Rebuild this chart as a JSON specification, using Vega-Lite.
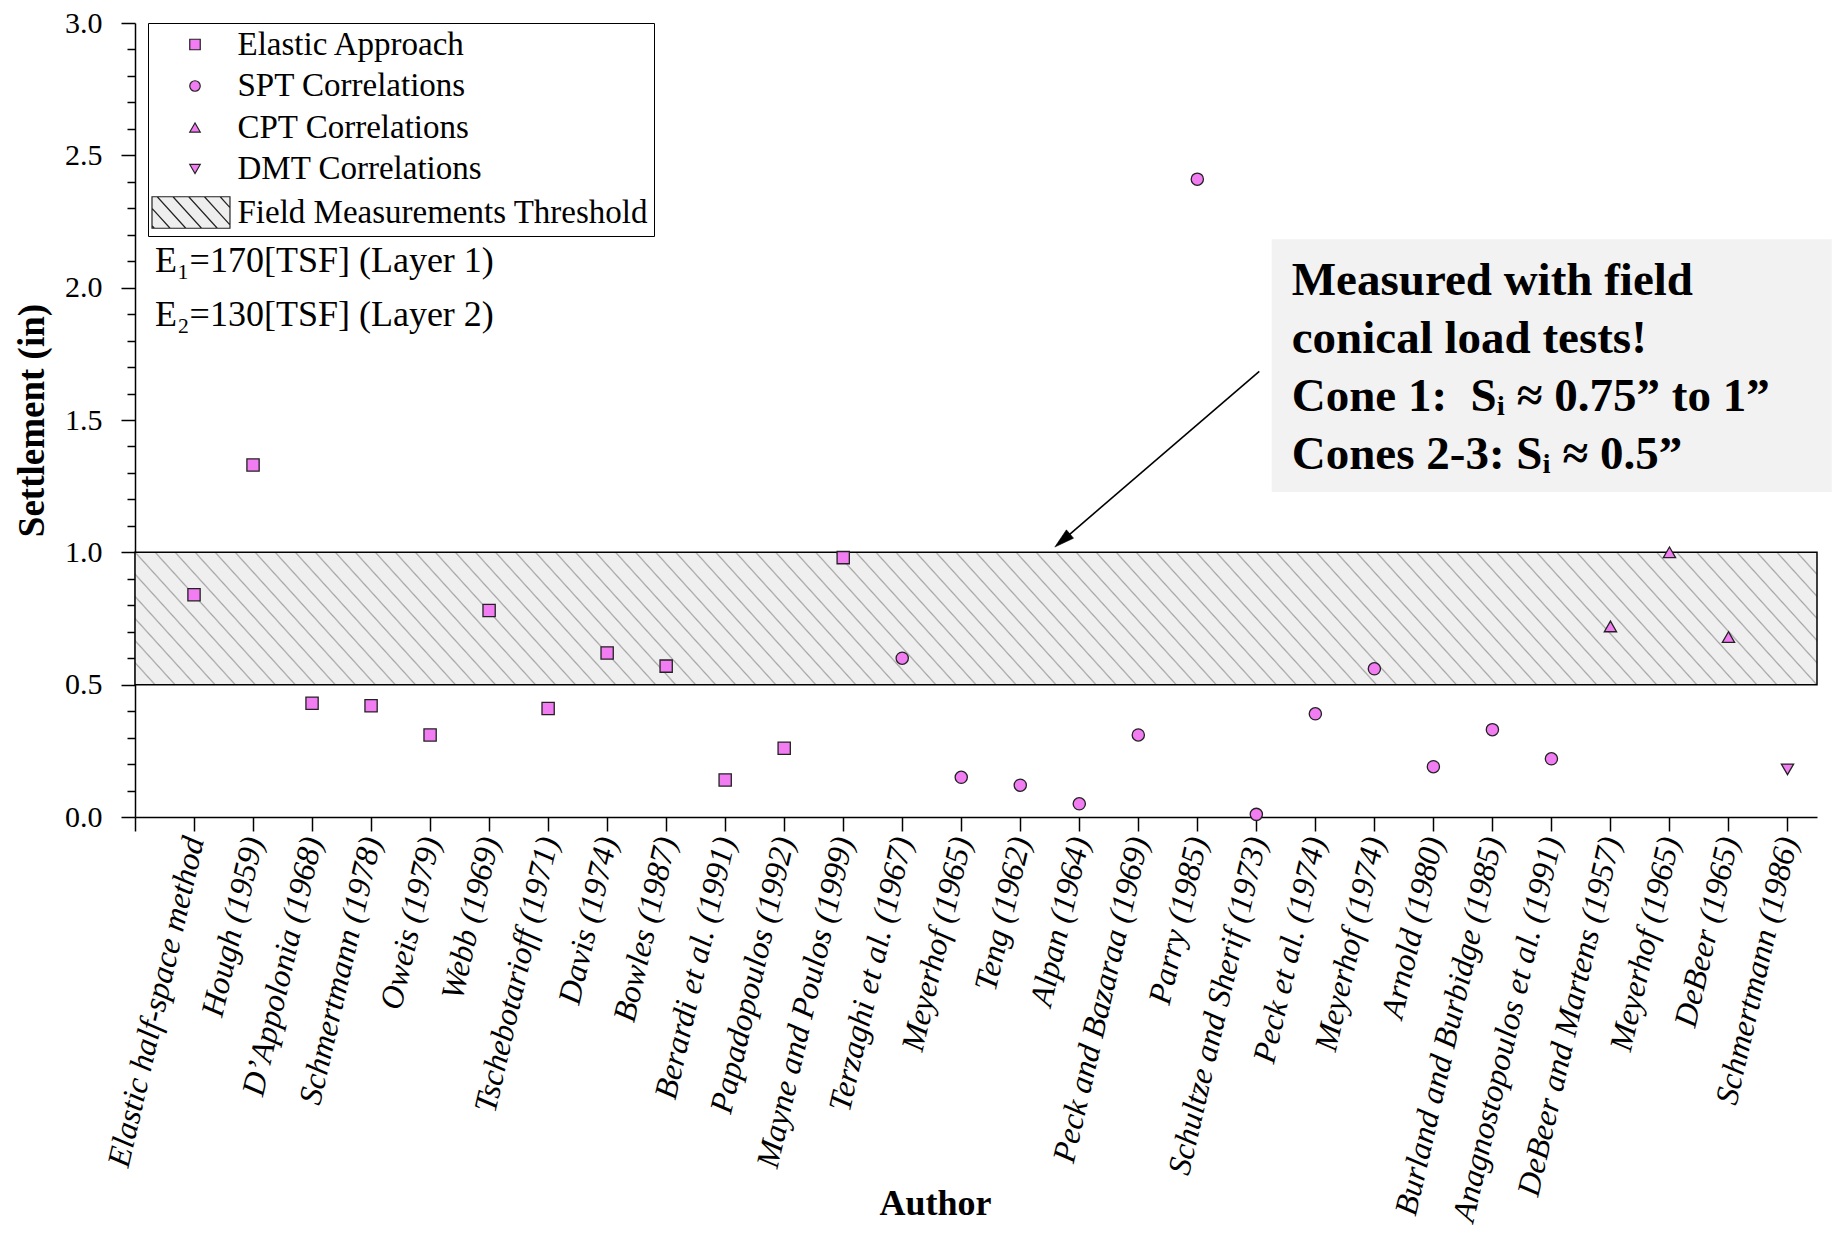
{
  "$schema": "https://vega.github.io/schema/vega-lite/v6.json",
  "width": 1682,
  "height": 794,
  "autosize": {"type": "none"},
  "padding": {"left": 135, "top": 23, "right": 15, "bottom": 420},
  "background": "white",
  "config": {
    "view": {"stroke": null},
    "font": "Liberation Serif",
    "axis": {"domainColor": "black", "domainWidth": 1.5, "tickColor": "black", "tickWidth": 1.5, "labelColor": "black", "titleColor": "black", "grid": false, "labelFont": "Liberation Serif", "titleFont": "Liberation Serif"},
    "axisY": {"labelFont": "Liberation Serif"}
  },
  "datasets": {
    "points": [
      {"x": 1, "author": "Elastic half-space method", "method": "Elastic Approach", "y": 0.84},
      {"x": 2, "author": "Hough (1959)", "method": "Elastic Approach", "y": 1.33},
      {"x": 3, "author": "D’Appolonia (1968)", "method": "Elastic Approach", "y": 0.43},
      {"x": 4, "author": "Schmertmann (1978)", "method": "Elastic Approach", "y": 0.42},
      {"x": 5, "author": "Oweis (1979)", "method": "Elastic Approach", "y": 0.31},
      {"x": 6, "author": "Webb (1969)", "method": "Elastic Approach", "y": 0.78},
      {"x": 7, "author": "Tschebotarioff (1971)", "method": "Elastic Approach", "y": 0.41},
      {"x": 8, "author": "Davis (1974)", "method": "Elastic Approach", "y": 0.62},
      {"x": 9, "author": "Bowles (1987)", "method": "Elastic Approach", "y": 0.57},
      {"x": 10, "author": "Berardi et al. (1991)", "method": "Elastic Approach", "y": 0.14},
      {"x": 11, "author": "Papadopoulos (1992)", "method": "Elastic Approach", "y": 0.26},
      {"x": 12, "author": "Mayne and Poulos (1999)", "method": "Elastic Approach", "y": 0.98},
      {"x": 13, "author": "Terzaghi et al. (1967)", "method": "SPT Correlations", "y": 0.60},
      {"x": 14, "author": "Meyerhof (1965)", "method": "SPT Correlations", "y": 0.15},
      {"x": 15, "author": "Teng (1962)", "method": "SPT Correlations", "y": 0.12},
      {"x": 16, "author": "Alpan (1964)", "method": "SPT Correlations", "y": 0.05},
      {"x": 17, "author": "Peck and Bazaraa (1969)", "method": "SPT Correlations", "y": 0.31},
      {"x": 18, "author": "Parry (1985)", "method": "SPT Correlations", "y": 2.41},
      {"x": 19, "author": "Schultze and Sherif (1973)", "method": "SPT Correlations", "y": 0.01},
      {"x": 20, "author": "Peck et al. (1974)", "method": "SPT Correlations", "y": 0.39},
      {"x": 21, "author": "Meyerhof (1974)", "method": "SPT Correlations", "y": 0.56},
      {"x": 22, "author": "Arnold (1980)", "method": "SPT Correlations", "y": 0.19},
      {"x": 23, "author": "Burland and Burbidge (1985)", "method": "SPT Correlations", "y": 0.33},
      {"x": 24, "author": "Anagnostopoulos et al. (1991)", "method": "SPT Correlations", "y": 0.22},
      {"x": 25, "author": "DeBeer and Martens (1957)", "method": "CPT Correlations", "y": 0.72},
      {"x": 26, "author": "Meyerhof (1965)", "method": "CPT Correlations", "y": 1.0},
      {"x": 27, "author": "DeBeer (1965)", "method": "CPT Correlations", "y": 0.68},
      {"x": 28, "author": "Schmertmann (1986)", "method": "DMT Correlations", "y": 0.18}
    ],
    "band": [{"x": 0, "x2": 28.5, "y": 0.5, "y2": 1.0}],
    "note": [{"x": 19.26, "x2": 28.75, "y": 1.228, "y2": 2.183}],
    "noteText": [
      {"x": 19.6, "y": 2.024, "line": "Measured with field"},
      {"x": 19.6, "y": 1.805, "line": "conical load tests!"},
      {"x": 19.6, "y": 1.586, "line": "Cone 1:\u00a0 Sᵢ ≈ 0.75” to 1”"},
      {"x": 19.6, "y": 1.367, "line": "Cones 2-3: Sᵢ ≈ 0.5”"}
    ],
    "arrow": [{"x": 19.05, "y": 1.684, "x2": 15.714, "y2": 1.0446}],
    "arrowTip": [{"x": 15.714, "y": 1.0446}],
    "params": [
      {"x": 0.34, "y": 2.099, "t": "E₁=170[TSF] (Layer 1)"},
      {"x": 0.34, "y": 1.896, "t": "E₂=130[TSF] (Layer 2)"}
    ]
  },
  "encoding": {
    "x": {
      "field": "x", "type": "quantitative", "title": "Author",
      "scale": {"domain": [0, 28.5], "nice": false, "zero": false},
      "axis": {
        "values": [0,1,2,3,4,5,6,7,8,9,10,11,12,13,14,15,16,17,18,19,20,21,22,23,24,25,26,27,28],
        "labelExpr": "['', 'Elastic half-space method', 'Hough (1959)', 'D’Appolonia (1968)', 'Schmertmann (1978)', 'Oweis (1979)', 'Webb (1969)', 'Tschebotarioff (1971)', 'Davis (1974)', 'Bowles (1987)', 'Berardi et al. (1991)', 'Papadopoulos (1992)', 'Mayne and Poulos (1999)', 'Terzaghi et al. (1967)', 'Meyerhof (1965)', 'Teng (1962)', 'Alpan (1964)', 'Peck and Bazaraa (1969)', 'Parry (1985)', 'Schultze and Sherif (1973)', 'Peck et al. (1974)', 'Meyerhof (1974)', 'Arnold (1980)', 'Burland and Burbidge (1985)', 'Anagnostopoulos et al. (1991)', 'DeBeer and Martens (1957)', 'Meyerhof (1965)', 'DeBeer (1965)', 'Schmertmann (1986)'][datum.value]",
        "labelAngle": -77,
        "labelAlign": "right",
        "labelBaseline": "middle",
        "labelFont": "Liberation Serif",
        "labelFontStyle": "italic",
        "labelFontSize": 32.5,
        "labelPadding": 6,
        "labelOverlap": false,
        "labelLimit": 0,
        "labelFlush": false,
        "tickSize": 14,
        "titleFontSize": 36,
        "titleFontWeight": "bold",
        "titleX": 800,
        "titleY": 386,
        "titleBaseline": "middle",
        "titleAlign": "center"
      }
    },
    "y": {
      "field": "y", "type": "quantitative", "title": "Settlement (in)",
      "scale": {"domain": [0, 3], "nice": false},
      "axis": {
        "values": [0,0.1,0.2,0.3,0.4,0.5,0.6,0.7,0.8,0.9,1,1.1,1.2,1.3,1.4,1.5,1.6,1.7,1.8,1.9,2,2.1,2.2,2.3,2.4,2.5,2.6,2.7,2.8,2.9,3],
        "labelExpr": "abs(datum.value*2-round(datum.value*2))<0.001 ? format(datum.value, '.1f') : ''",
        "labelFontSize": {"condition": {"test": "abs(datum.value*2-round(datum.value*2))<0.001", "value": 30}, "value": 1},
        "tickSize": {"condition": {"test": "abs(datum.value*2-round(datum.value*2))<0.001", "value": 14}, "value": 8},
        "labelFont": "Liberation Serif",
        "labelPadding": 19,
        "labelOverlap": false,
        "titleFontSize": 37,
        "titleFontWeight": "bold",
        "titlePadding": 13
      }
    }
  },
  "layer": [
    {
      "data": {"name": "band"},
      "mark": {
        "type": "rect",
        "stroke": "black",
        "strokeWidth": 1.5,
        "fill": {
          "gradient": "linear", "x1": 0, "y1": 1, "x2": 1.06592, "y2": 0.92396,
          "stops": [
            {"offset": 0, "color": "#a4a4a4"}, {"offset": 0.0009, "color": "#efefef"},
            {"offset": 0.0102, "color": "#efefef"}, {"offset": 0.0111, "color": "#a4a4a4"}, {"offset": 0.0120, "color": "#efefef"},
            {"offset": 0.0213, "color": "#efefef"}, {"offset": 0.0222, "color": "#a4a4a4"}, {"offset": 0.0231, "color": "#efefef"},
            {"offset": 0.0324, "color": "#efefef"}, {"offset": 0.0333, "color": "#a4a4a4"}, {"offset": 0.0342, "color": "#efefef"},
            {"offset": 0.0435, "color": "#efefef"}, {"offset": 0.0444, "color": "#a4a4a4"}, {"offset": 0.0453, "color": "#efefef"},
            {"offset": 0.0547, "color": "#efefef"}, {"offset": 0.0556, "color": "#a4a4a4"}, {"offset": 0.0565, "color": "#efefef"},
            {"offset": 0.0658, "color": "#efefef"}, {"offset": 0.0667, "color": "#a4a4a4"}, {"offset": 0.0676, "color": "#efefef"},
            {"offset": 0.0769, "color": "#efefef"}, {"offset": 0.0778, "color": "#a4a4a4"}, {"offset": 0.0787, "color": "#efefef"},
            {"offset": 0.0880, "color": "#efefef"}, {"offset": 0.0889, "color": "#a4a4a4"}, {"offset": 0.0898, "color": "#efefef"},
            {"offset": 0.0991, "color": "#efefef"}, {"offset": 0.1000, "color": "#a4a4a4"}, {"offset": 0.1009, "color": "#efefef"},
            {"offset": 0.1102, "color": "#efefef"}, {"offset": 0.1111, "color": "#a4a4a4"}, {"offset": 0.1120, "color": "#efefef"},
            {"offset": 0.1213, "color": "#efefef"}, {"offset": 0.1222, "color": "#a4a4a4"}, {"offset": 0.1231, "color": "#efefef"},
            {"offset": 0.1324, "color": "#efefef"}, {"offset": 0.1333, "color": "#a4a4a4"}, {"offset": 0.1342, "color": "#efefef"},
            {"offset": 0.1435, "color": "#efefef"}, {"offset": 0.1444, "color": "#a4a4a4"}, {"offset": 0.1453, "color": "#efefef"},
            {"offset": 0.1547, "color": "#efefef"}, {"offset": 0.1556, "color": "#a4a4a4"}, {"offset": 0.1565, "color": "#efefef"},
            {"offset": 0.1658, "color": "#efefef"}, {"offset": 0.1667, "color": "#a4a4a4"}, {"offset": 0.1676, "color": "#efefef"},
            {"offset": 0.1769, "color": "#efefef"}, {"offset": 0.1778, "color": "#a4a4a4"}, {"offset": 0.1787, "color": "#efefef"},
            {"offset": 0.1880, "color": "#efefef"}, {"offset": 0.1889, "color": "#a4a4a4"}, {"offset": 0.1898, "color": "#efefef"},
            {"offset": 0.1991, "color": "#efefef"}, {"offset": 0.2000, "color": "#a4a4a4"}, {"offset": 0.2009, "color": "#efefef"},
            {"offset": 0.2102, "color": "#efefef"}, {"offset": 0.2111, "color": "#a4a4a4"}, {"offset": 0.2120, "color": "#efefef"},
            {"offset": 0.2213, "color": "#efefef"}, {"offset": 0.2222, "color": "#a4a4a4"}, {"offset": 0.2231, "color": "#efefef"},
            {"offset": 0.2324, "color": "#efefef"}, {"offset": 0.2333, "color": "#a4a4a4"}, {"offset": 0.2342, "color": "#efefef"},
            {"offset": 0.2435, "color": "#efefef"}, {"offset": 0.2444, "color": "#a4a4a4"}, {"offset": 0.2453, "color": "#efefef"},
            {"offset": 0.2547, "color": "#efefef"}, {"offset": 0.2556, "color": "#a4a4a4"}, {"offset": 0.2565, "color": "#efefef"},
            {"offset": 0.2658, "color": "#efefef"}, {"offset": 0.2667, "color": "#a4a4a4"}, {"offset": 0.2676, "color": "#efefef"},
            {"offset": 0.2769, "color": "#efefef"}, {"offset": 0.2778, "color": "#a4a4a4"}, {"offset": 0.2787, "color": "#efefef"},
            {"offset": 0.2880, "color": "#efefef"}, {"offset": 0.2889, "color": "#a4a4a4"}, {"offset": 0.2898, "color": "#efefef"},
            {"offset": 0.2991, "color": "#efefef"}, {"offset": 0.3000, "color": "#a4a4a4"}, {"offset": 0.3009, "color": "#efefef"},
            {"offset": 0.3102, "color": "#efefef"}, {"offset": 0.3111, "color": "#a4a4a4"}, {"offset": 0.3120, "color": "#efefef"},
            {"offset": 0.3213, "color": "#efefef"}, {"offset": 0.3222, "color": "#a4a4a4"}, {"offset": 0.3231, "color": "#efefef"},
            {"offset": 0.3324, "color": "#efefef"}, {"offset": 0.3333, "color": "#a4a4a4"}, {"offset": 0.3342, "color": "#efefef"},
            {"offset": 0.3435, "color": "#efefef"}, {"offset": 0.3444, "color": "#a4a4a4"}, {"offset": 0.3453, "color": "#efefef"},
            {"offset": 0.3547, "color": "#efefef"}, {"offset": 0.3556, "color": "#a4a4a4"}, {"offset": 0.3565, "color": "#efefef"},
            {"offset": 0.3658, "color": "#efefef"}, {"offset": 0.3667, "color": "#a4a4a4"}, {"offset": 0.3676, "color": "#efefef"},
            {"offset": 0.3769, "color": "#efefef"}, {"offset": 0.3778, "color": "#a4a4a4"}, {"offset": 0.3787, "color": "#efefef"},
            {"offset": 0.3880, "color": "#efefef"}, {"offset": 0.3889, "color": "#a4a4a4"}, {"offset": 0.3898, "color": "#efefef"},
            {"offset": 0.3991, "color": "#efefef"}, {"offset": 0.4000, "color": "#a4a4a4"}, {"offset": 0.4009, "color": "#efefef"},
            {"offset": 0.4102, "color": "#efefef"}, {"offset": 0.4111, "color": "#a4a4a4"}, {"offset": 0.4120, "color": "#efefef"},
            {"offset": 0.4213, "color": "#efefef"}, {"offset": 0.4222, "color": "#a4a4a4"}, {"offset": 0.4231, "color": "#efefef"},
            {"offset": 0.4324, "color": "#efefef"}, {"offset": 0.4333, "color": "#a4a4a4"}, {"offset": 0.4342, "color": "#efefef"},
            {"offset": 0.4435, "color": "#efefef"}, {"offset": 0.4444, "color": "#a4a4a4"}, {"offset": 0.4453, "color": "#efefef"},
            {"offset": 0.4547, "color": "#efefef"}, {"offset": 0.4556, "color": "#a4a4a4"}, {"offset": 0.4565, "color": "#efefef"},
            {"offset": 0.4658, "color": "#efefef"}, {"offset": 0.4667, "color": "#a4a4a4"}, {"offset": 0.4676, "color": "#efefef"},
            {"offset": 0.4769, "color": "#efefef"}, {"offset": 0.4778, "color": "#a4a4a4"}, {"offset": 0.4787, "color": "#efefef"},
            {"offset": 0.4880, "color": "#efefef"}, {"offset": 0.4889, "color": "#a4a4a4"}, {"offset": 0.4898, "color": "#efefef"},
            {"offset": 0.4991, "color": "#efefef"}, {"offset": 0.5000, "color": "#a4a4a4"}, {"offset": 0.5009, "color": "#efefef"},
            {"offset": 0.5102, "color": "#efefef"}, {"offset": 0.5111, "color": "#a4a4a4"}, {"offset": 0.5120, "color": "#efefef"},
            {"offset": 0.5213, "color": "#efefef"}, {"offset": 0.5222, "color": "#a4a4a4"}, {"offset": 0.5231, "color": "#efefef"},
            {"offset": 0.5324, "color": "#efefef"}, {"offset": 0.5333, "color": "#a4a4a4"}, {"offset": 0.5342, "color": "#efefef"},
            {"offset": 0.5435, "color": "#efefef"}, {"offset": 0.5444, "color": "#a4a4a4"}, {"offset": 0.5453, "color": "#efefef"},
            {"offset": 0.5547, "color": "#efefef"}, {"offset": 0.5556, "color": "#a4a4a4"}, {"offset": 0.5565, "color": "#efefef"},
            {"offset": 0.5658, "color": "#efefef"}, {"offset": 0.5667, "color": "#a4a4a4"}, {"offset": 0.5676, "color": "#efefef"},
            {"offset": 0.5769, "color": "#efefef"}, {"offset": 0.5778, "color": "#a4a4a4"}, {"offset": 0.5787, "color": "#efefef"},
            {"offset": 0.5880, "color": "#efefef"}, {"offset": 0.5889, "color": "#a4a4a4"}, {"offset": 0.5898, "color": "#efefef"},
            {"offset": 0.5991, "color": "#efefef"}, {"offset": 0.6000, "color": "#a4a4a4"}, {"offset": 0.6009, "color": "#efefef"},
            {"offset": 0.6102, "color": "#efefef"}, {"offset": 0.6111, "color": "#a4a4a4"}, {"offset": 0.6120, "color": "#efefef"},
            {"offset": 0.6213, "color": "#efefef"}, {"offset": 0.6222, "color": "#a4a4a4"}, {"offset": 0.6231, "color": "#efefef"},
            {"offset": 0.6324, "color": "#efefef"}, {"offset": 0.6333, "color": "#a4a4a4"}, {"offset": 0.6342, "color": "#efefef"},
            {"offset": 0.6435, "color": "#efefef"}, {"offset": 0.6444, "color": "#a4a4a4"}, {"offset": 0.6453, "color": "#efefef"},
            {"offset": 0.6547, "color": "#efefef"}, {"offset": 0.6556, "color": "#a4a4a4"}, {"offset": 0.6565, "color": "#efefef"},
            {"offset": 0.6658, "color": "#efefef"}, {"offset": 0.6667, "color": "#a4a4a4"}, {"offset": 0.6676, "color": "#efefef"},
            {"offset": 0.6769, "color": "#efefef"}, {"offset": 0.6778, "color": "#a4a4a4"}, {"offset": 0.6787, "color": "#efefef"},
            {"offset": 0.6880, "color": "#efefef"}, {"offset": 0.6889, "color": "#a4a4a4"}, {"offset": 0.6898, "color": "#efefef"},
            {"offset": 0.6991, "color": "#efefef"}, {"offset": 0.7000, "color": "#a4a4a4"}, {"offset": 0.7009, "color": "#efefef"},
            {"offset": 0.7102, "color": "#efefef"}, {"offset": 0.7111, "color": "#a4a4a4"}, {"offset": 0.7120, "color": "#efefef"},
            {"offset": 0.7213, "color": "#efefef"}, {"offset": 0.7222, "color": "#a4a4a4"}, {"offset": 0.7231, "color": "#efefef"},
            {"offset": 0.7324, "color": "#efefef"}, {"offset": 0.7333, "color": "#a4a4a4"}, {"offset": 0.7342, "color": "#efefef"},
            {"offset": 0.7435, "color": "#efefef"}, {"offset": 0.7444, "color": "#a4a4a4"}, {"offset": 0.7453, "color": "#efefef"},
            {"offset": 0.7547, "color": "#efefef"}, {"offset": 0.7556, "color": "#a4a4a4"}, {"offset": 0.7565, "color": "#efefef"},
            {"offset": 0.7658, "color": "#efefef"}, {"offset": 0.7667, "color": "#a4a4a4"}, {"offset": 0.7676, "color": "#efefef"},
            {"offset": 0.7769, "color": "#efefef"}, {"offset": 0.7778, "color": "#a4a4a4"}, {"offset": 0.7787, "color": "#efefef"},
            {"offset": 0.7880, "color": "#efefef"}, {"offset": 0.7889, "color": "#a4a4a4"}, {"offset": 0.7898, "color": "#efefef"},
            {"offset": 0.7991, "color": "#efefef"}, {"offset": 0.8000, "color": "#a4a4a4"}, {"offset": 0.8009, "color": "#efefef"},
            {"offset": 0.8102, "color": "#efefef"}, {"offset": 0.8111, "color": "#a4a4a4"}, {"offset": 0.8120, "color": "#efefef"},
            {"offset": 0.8213, "color": "#efefef"}, {"offset": 0.8222, "color": "#a4a4a4"}, {"offset": 0.8231, "color": "#efefef"},
            {"offset": 0.8324, "color": "#efefef"}, {"offset": 0.8333, "color": "#a4a4a4"}, {"offset": 0.8342, "color": "#efefef"},
            {"offset": 0.8435, "color": "#efefef"}, {"offset": 0.8444, "color": "#a4a4a4"}, {"offset": 0.8453, "color": "#efefef"},
            {"offset": 0.8547, "color": "#efefef"}, {"offset": 0.8556, "color": "#a4a4a4"}, {"offset": 0.8565, "color": "#efefef"},
            {"offset": 0.8658, "color": "#efefef"}, {"offset": 0.8667, "color": "#a4a4a4"}, {"offset": 0.8676, "color": "#efefef"},
            {"offset": 0.8769, "color": "#efefef"}, {"offset": 0.8778, "color": "#a4a4a4"}, {"offset": 0.8787, "color": "#efefef"},
            {"offset": 0.8880, "color": "#efefef"}, {"offset": 0.8889, "color": "#a4a4a4"}, {"offset": 0.8898, "color": "#efefef"},
            {"offset": 0.8991, "color": "#efefef"}, {"offset": 0.9000, "color": "#a4a4a4"}, {"offset": 0.9009, "color": "#efefef"},
            {"offset": 0.9102, "color": "#efefef"}, {"offset": 0.9111, "color": "#a4a4a4"}, {"offset": 0.9120, "color": "#efefef"},
            {"offset": 0.9213, "color": "#efefef"}, {"offset": 0.9222, "color": "#a4a4a4"}, {"offset": 0.9231, "color": "#efefef"},
            {"offset": 0.9324, "color": "#efefef"}, {"offset": 0.9333, "color": "#a4a4a4"}, {"offset": 0.9342, "color": "#efefef"},
            {"offset": 0.9435, "color": "#efefef"}, {"offset": 0.9444, "color": "#a4a4a4"}, {"offset": 0.9453, "color": "#efefef"},
            {"offset": 0.9547, "color": "#efefef"}, {"offset": 0.9556, "color": "#a4a4a4"}, {"offset": 0.9565, "color": "#efefef"},
            {"offset": 0.9658, "color": "#efefef"}, {"offset": 0.9667, "color": "#a4a4a4"}, {"offset": 0.9676, "color": "#efefef"},
            {"offset": 0.9769, "color": "#efefef"}, {"offset": 0.9778, "color": "#a4a4a4"}, {"offset": 0.9787, "color": "#efefef"},
            {"offset": 0.9880, "color": "#efefef"}, {"offset": 0.9889, "color": "#a4a4a4"}, {"offset": 0.9898, "color": "#efefef"},
            {"offset": 0.9991, "color": "#efefef"}, {"offset": 1, "color": "#a4a4a4"}
          ]
        }
      },
      "encoding": {
        "x2": {"field": "x2"},
        "y2": {"field": "y2"}
      }
    },
    {
      "data": {"name": "note"},
      "mark": {"type": "rect", "fill": "#f2f2f2"},
      "encoding": {
        "x2": {"field": "x2"},
        "y2": {"field": "y2"}
      }
    },
    {
      "data": {"name": "noteText"},
      "mark": {"type": "text", "align": "left", "baseline": "middle", "font": "Liberation Serif", "fontWeight": "bold", "fontSize": 47, "color": "black"},
      "encoding": {
        "text": {"field": "line"}
      }
    },
    {
      "data": {"name": "arrow"},
      "mark": {"type": "rule", "stroke": "black", "strokeWidth": 1.6},
      "encoding": {
        "x2": {"field": "x2"},
        "y2": {"field": "y2"}
      }
    },
    {
      "data": {"name": "arrowTip"},
      "mark": {"type": "point", "shape": "M0,-1L0.55,1L-0.55,1Z", "filled": true, "fill": "black", "stroke": "black", "strokeWidth": 0.5, "size": 400, "angle": 229.4, "opacity": 1},
      "encoding": {}
    },
    {
      "data": {"name": "params"},
      "mark": {"type": "text", "align": "left", "baseline": "middle", "font": "Liberation Serif", "fontSize": 36, "color": "black"},
      "encoding": {
        "text": {"field": "t"}
      }
    },
    {
      "data": {"name": "points"},
      "mark": {"type": "point", "filled": true, "size": 150, "stroke": "#222222", "strokeWidth": 1.3, "opacity": 1},
      "encoding": {
        "shape": {
          "field": "method", "type": "nominal",
          "scale": {
            "domain": ["Elastic Approach", "SPT Correlations", "CPT Correlations", "DMT Correlations", "Field Measurements Threshold"],
            "range": ["square", "circle", "triangle-up", "triangle-down", "M-8.2,-3.0H6.67V3.0H-8.2Z M-7.2,-3.0L-1.75,3.0 M-4.2,-3.0L1.25,3.0 M-1.2,-3.0L4.25,3.0 M1.8,-3.0L6.67,2.36 M4.8,-3.0L6.67,-0.94 M-8.2,-0.8L-4.75,3.0 M-8.2,2.5L-7.75,3.0"]
          },
          "legend": {
            "orient": "none", "legendX": 13, "legendY": 0, "direction": "vertical", "title": null,
            "padding": 5, "strokeColor": "black", "fillColor": "white",
            "labelFont": "Liberation Serif", "labelFontSize": 33, "labelColor": "black", "labelLimit": 0,
            "symbolOffset": 25.5, "labelOffset": 26, "rowPadding": 7.5, "symbolSize": 110, "symbolStrokeWidth": 1.2, "symbolOpacity": 1,
            "encode": {"symbols": {"update": {"stroke": {"signal": "datum.value === 'Field Measurements Threshold' ? '#8a8a8a' : '#222222'"}}}}
          }
        },
        "fill": {
          "field": "method", "type": "nominal",
          "scale": {
            "domain": ["Elastic Approach", "SPT Correlations", "CPT Correlations", "DMT Correlations", "Field Measurements Threshold"],
            "range": ["#f27cf2", "#f27cf2", "#f27cf2", "#f27cf2", "#eeeeee"]
          },
          "legend": {
            "orient": "none", "legendX": 13, "legendY": 0, "direction": "vertical", "title": null,
            "padding": 5, "strokeColor": "black", "fillColor": "white",
            "labelFont": "Liberation Serif", "labelFontSize": 33, "labelColor": "black", "labelLimit": 0,
            "symbolOffset": 25.5, "labelOffset": 26, "rowPadding": 7.5, "symbolSize": 110, "symbolStrokeWidth": 1.2, "symbolOpacity": 1,
            "encode": {"symbols": {"update": {"stroke": {"signal": "datum.value === 'Field Measurements Threshold' ? '#8a8a8a' : '#222222'"}}}}
          }
        },
        "tooltip": [{"field": "author"}, {"field": "method"}, {"field": "y", "title": "Settlement (in)"}]
      }
    }
  ]
}
